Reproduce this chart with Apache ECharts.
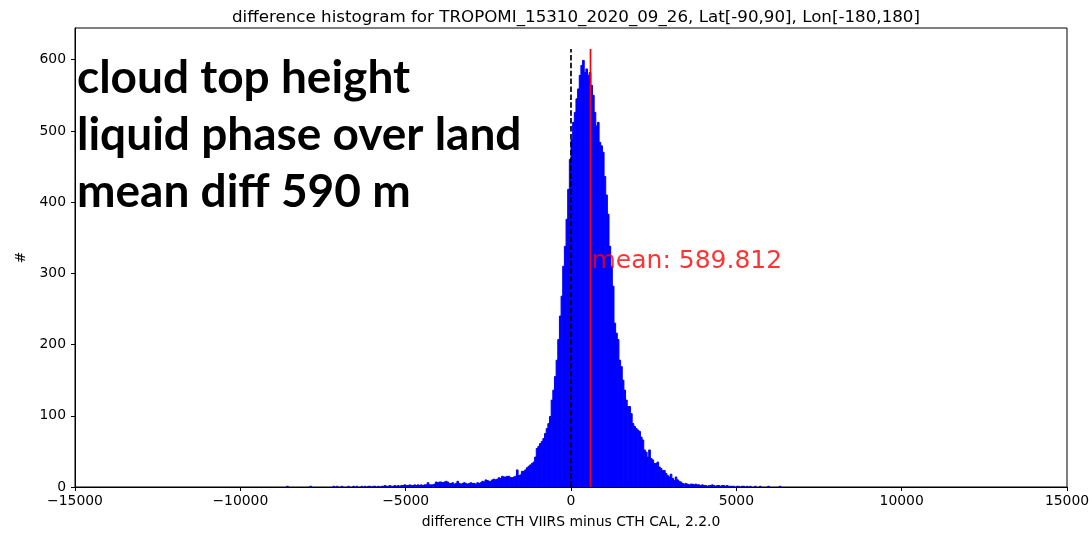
<!DOCTYPE html>
<html>
<head>
<meta charset="utf-8">
<title>difference histogram</title>
<script src="https://cdn.jsdelivr.net/npm/echarts@6.0.0/dist/echarts.min.js"></script>
<style>
  html, body { margin: 0; padding: 0; background: #fff; }
  #main { width: 1089px; height: 534px; }
</style>
</head>
<body>
<div id="main"></div>
<script>
// histogram data: bins of 50 m starting at -8600 m
var binLeft = -8600;
var binWidth = 50;
var counts = [
  1, 0, 0, 0, 0, 0, 0, 0, 0, 0,            // -8600
  0, 0, 0, 0, 1, 0, 0, 0, 0, 0,            // -8100
  0, 0, 0, 0, 0, 0, 0, 0, 1, 0,            // -7600
  1, 0, 0, 1, 0, 0, 0, 1, 0, 0,            // -7100
  1, 0, 1, 0, 0, 1, 0, 1, 0, 1,            // -6600
  1, 0, 1, 1, 0, 1, 0, 1, 1, 2,            // -6100
  1, 1, 2, 1, 1, 2, 1, 2, 1, 2,            // -5600
  2, 3, 2, 2, 3, 2, 2, 3, 2, 3,            // -5100
  2, 3, 2, 3, 3, 6, 3, 3, 3, 4,            // -4600
  7, 6, 7, 7, 6, 7, 8, 7, 5, 5,            // -4100
  6, 4, 5, 8, 5, 4, 5, 6, 5, 4,            // -3600
  5, 6, 5, 5, 4, 6, 5, 6, 8, 7,            // -3100
  10, 9, 8, 8, 10, 11, 10, 11, 13, 12,     // -2600
  15, 14, 14, 15, 15, 13, 13, 14, 15, 24,  // -2100
  16, 17, 22, 22, 24, 27, 29, 31, 33, 35,  // -1600
  42, 54, 57, 61, 64, 68, 75, 82, 89, 99,  // -1100
  122, 136, 155, 178, 207, 240, 268, 310, 338, 376,  // -600
  418, 460, 488, 512, 526, 545, 559, 578, 592, 599,  // -100
  582, 587, 578, 582, 564, 550, 526, 507, 512, 484,  // 400
  479, 470, 436, 410, 383, 338, 310, 282, 230, 216,  // 900
  207, 178, 169, 150, 136, 122, 113, 113, 103, 89,   // 1400
  85, 82, 80, 78, 70, 66, 52, 49, 42, 52,  // 1900
  40, 38, 33, 33, 35, 28, 26, 23, 23, 19,  // 2400
  16, 14, 18, 12, 9, 14, 10, 8, 7, 5,      // 2900
  4, 5, 4, 3, 4, 4, 3, 4, 3, 3,            // 3400
  2, 3, 2, 2, 1, 2, 2, 3, 2, 1,            // 3900
  2, 2, 1, 2, 2, 1, 2, 1, 1, 1,            // 4400
  1, 0, 1, 1, 0, 1, 1, 0, 1, 0,            // 4900
  1, 0, 0, 1, 0, 0, 1, 0, 0, 0,            // 5400
  0, 1, 0, 0, 0, 0, 0, 0, 1, 0             // 5900
];

var meanValue = 589.812;
var lineTop = 615;
var meanLabelY = 316;

var xTicks = [-15000, -10000, -5000, 0, 5000, 10000, 15000];
var yTicks = [0, 100, 200, 300, 400, 500, 600];

var titleText = 'difference histogram for TROPOMI_15310_2020_09_26, Lat[-90,90], Lon[-180,180]';
var xName = 'difference CTH VIIRS minus CTH CAL, 2.2.0';
var yName = '#';
var noteText = 'cloud top height\nliquid phase over land\nmean diff 590 m';

// build [left, right, count] per bin
var bins = [];
for (var i = 0; i < counts.length; i++) {
  if (counts[i] > 0) {
    bins.push([binLeft + i * binWidth, binLeft + (i + 1) * binWidth, counts[i]]);
  }
}

var minusFmt = function (v) {
  return v < 0 ? '\u2212' + Math.abs(v) : String(v);
};

var chart = echarts.init(document.getElementById('main'));

var option = {
  animation: false,
  backgroundColor: '#fff',
  textStyle: { fontFamily: 'DejaVu Sans' },
  title: {
    text: titleText,
    left: 571,
    textAlign: 'center',
    top: 4,
    textStyle: { fontFamily: 'DejaVu Sans', fontSize: 16.7, fontWeight: 'normal', color: '#000' }
  },
  grid: {
    left: 75,
    right: 22,
    top: 28,
    bottom: 47,
    outerBoundsMode: 'none',
    containLabel: false,
    show: true,
    borderColor: '#000',
    borderWidth: 1
  },
  xAxis: {
    type: 'value',
    min: -15000,
    max: 15000,
    interval: 5000,
    name: xName,
    nameLocation: 'middle',
    nameGap: 28,
    nameTextStyle: { fontFamily: 'DejaVu Sans', fontSize: 13.9, color: '#000' },
    axisLine: { show: true, onZero: false, lineStyle: { color: '#000', width: 1 } },
    axisTick: { show: true, length: 4, lineStyle: { color: '#000' }, customValues: xTicks },
    axisLabel: { color: '#000', fontSize: 13.9, margin: 7, formatter: minusFmt, customValues: xTicks },
    splitLine: { show: false }
  },
  yAxis: {
    type: 'value',
    min: 0,
    max: 644.5,
    interval: 100,
    name: yName,
    nameLocation: 'middle',
    nameRotate: 90,
    nameGap: 44,
    nameTextStyle: { fontFamily: 'DejaVu Sans', fontSize: 13.9, color: '#000' },
    axisLine: { show: true, onZero: false, lineStyle: { color: '#000', width: 1 } },
    axisTick: { show: true, length: 4, lineStyle: { color: '#000' }, customValues: yTicks },
    axisLabel: { color: '#000', fontSize: 13.9, margin: 9, customValues: yTicks },
    splitLine: { show: false }
  },
  graphic: [
    {
      type: 'text',
      left: 77,
      top: 50,
      z: 100,
      style: {
        text: noteText,
        font: 'bold 46px Lato',
        fill: '#000',
        lineHeight: 57
      }
    }
  ],
  series: [
    {
      name: 'hist',
      type: 'custom',
      encode: { x: [0, 1], y: 2 },
      data: bins,
      renderItem: function (params, api) {
        var p0 = api.coord([api.value(0), api.value(2)]);
        var p1 = api.coord([api.value(1), 0]);
        return {
          type: 'rect',
          shape: { x: p0[0], y: p0[1], width: p1[0] - p0[0], height: p1[1] - p0[1] },
          style: { fill: '#0000ff', stroke: '#0000ff', lineWidth: 1 }
        };
      },
      z: 2
    },
    {
      name: 'zero',
      type: 'line',
      data: [[0, 0], [0, lineTop]],
      symbol: 'none',
      lineStyle: { color: '#000', width: 1.7, type: [5.5, 2.4] },
      z: 3
    },
    {
      name: 'mean',
      type: 'line',
      data: [[meanValue, 0], [meanValue, lineTop]],
      symbol: 'none',
      lineStyle: { color: '#ff0000', width: 1.7 },
      z: 4
    },
    {
      name: 'meanLabel',
      type: 'scatter',
      data: [[meanValue, meanLabelY]],
      symbolSize: 0,
      label: {
        show: true,
        position: 'right',
        distance: 1,
        formatter: 'mean: ' + meanValue,
        color: '#ff0000',
        fontFamily: 'DejaVu Sans',
        fontSize: 25
      },
      z: 5
    }
  ]
};

chart.setOption(option);
</script>
</body>
</html>
